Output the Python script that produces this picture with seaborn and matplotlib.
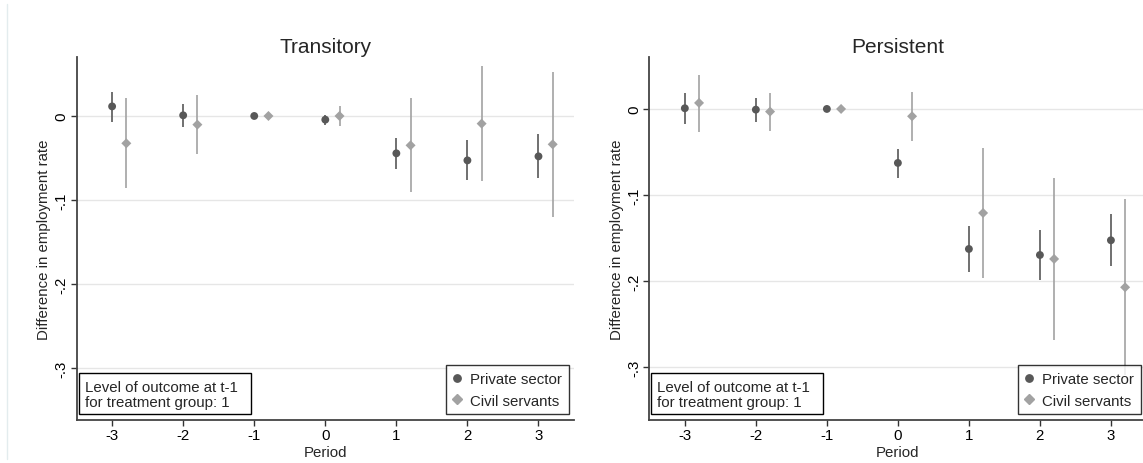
import matplotlib
matplotlib.use("Agg")
import matplotlib.pyplot as plt
from matplotlib.lines import Line2D
from matplotlib.patches import Rectangle
import pandas as pd
import seaborn as sns

# Event-study estimates with 95% confidence bounds
periods = [-3, -2, -1, 0, 1, 2, 3]
groups = ["Private sector", "Civil servants"]

trans_private = [0.0114, 0.0008, 0.0, -0.0044, -0.0444, -0.0528, -0.0480]
trans_private_lo = [-0.0068, -0.0127, 0.0, -0.0107, -0.0635, -0.0762, -0.0742]
trans_private_hi = [0.0289, 0.0146, 0.0, 0.0015, -0.0258, -0.0286, -0.0218]
trans_civil = [-0.0325, -0.0103, 0.0, 0.0, -0.0349, -0.0091, -0.0337]
trans_civil_lo = [-0.0861, -0.0452, 0.0, -0.0115, -0.0909, -0.0778, -0.1202]
trans_civil_hi = [0.0210, 0.0246, 0.0, 0.0119, 0.0210, 0.0595, 0.0524]

pers_private = [0.0008, -0.0008, 0.0, -0.0627, -0.1626, -0.1696, -0.1525]
pers_private_lo = [-0.0178, -0.0151, 0.0, -0.0798, -0.1897, -0.1986, -0.1823]
pers_private_hi = [0.0186, 0.0132, 0.0, -0.0461, -0.1359, -0.1405, -0.1223]
pers_civil = [0.0070, -0.0031, 0.0, -0.0085, -0.1208, -0.1742, -0.2071]
pers_civil_lo = [-0.0263, -0.0256, 0.0, -0.0372, -0.1959, -0.2679, -0.3093]
pers_civil_hi = [0.0399, 0.0186, 0.0, 0.0201, -0.0457, -0.0801, -0.1049]

y_ticks = [0, -0.1, -0.2, -0.3]
y_tick_labels = ["0", "-.1", "-.2", "-.3"]
note_text = "Level of outcome at t-1\nfor treatment group: 1"

sns.set_style("ticks")
plt.rcParams["font.family"] = ["Liberation Sans", "DejaVu Sans"]

DARK = "#585858"
LIGHT = "#a2a2a2"
FS = 10.8
palette = {groups[0]: DARK, groups[1]: LIGHT}
markers = {groups[0]: "o", groups[1]: "D"}
sizes = {groups[0]: 32, groups[1]: 26}
offsets = {groups[0]: 0.0, groups[1]: 0.2}


def make_frame(priv, priv_lo, priv_hi, civ, civ_lo, civ_hi):
    rows = []
    for g, est, lo, hi in [(groups[0], priv, priv_lo, priv_hi),
                           (groups[1], civ, civ_lo, civ_hi)]:
        for p, e, l, h in zip(periods, est, lo, hi):
            rows.append({"period": p, "x": p + offsets[g], "group": g,
                         "est": e, "lo": l, "hi": h})
    return pd.DataFrame(rows)


fig = plt.figure(figsize=(11.43, 4.64), dpi=100)

# faint frame edge on the left side
fig.add_artist(Line2D([6.5 / 1143, 6.5 / 1143], [1 - 5 / 464, 1 - 460 / 464],
                      color="#e3ecee", lw=1.0, transform=fig.transFigure))

panels = [
    ("Transitory", [0.0670, 0.0927, 0.4352, 0.7817], (-0.3615, 0.0698),
     make_frame(trans_private, trans_private_lo, trans_private_hi,
                trans_civil, trans_civil_lo, trans_civil_hi),
     0.0052, 0.0163, 0.345, 0.990),
    ("Persistent", [0.5681, 0.0927, 0.4349, 0.7817], (-0.3612, 0.0600),
     make_frame(pers_private, pers_private_lo, pers_private_hi,
                pers_civil, pers_civil_lo, pers_civil_hi),
     0.0034, 0.0147, 0.3467, 0.989),
]

for title, rect, ylim, df, box_x, text_x, box_w, leg_x in panels:
    ax = fig.add_axes(rect)
    ax.set_xlim(-3.5, 3.5)
    ax.set_ylim(*ylim)

    for yv in y_ticks:
        ax.axhline(yv, color="#e6e6e6", lw=1.0, zorder=0)

    for g in groups:
        sub = df[df["group"] == g]
        ax.vlines(sub["x"], sub["lo"], sub["hi"], colors=palette[g],
                  lw=1.2, zorder=2)

    sns.scatterplot(data=df, x="x", y="est", hue="group", style="group",
                    size="group", palette=palette, markers=markers,
                    sizes=sizes, linewidth=0, legend=False, ax=ax, zorder=3)

    ax.set_xticks(periods)
    ax.set_xticklabels([str(p) for p in periods])
    ax.set_yticks(y_ticks)
    ax.set_yticklabels(y_tick_labels, rotation=90, va="center")
    ax.tick_params(axis="both", length=4, width=1.0, color="#333333",
                   labelsize=FS, labelcolor="black")
    ax.tick_params(axis="x", pad=1.5)
    ax.tick_params(axis="y", pad=2)
    ax.set_xlabel("Period", fontsize=FS, labelpad=2.5)
    ax.set_ylabel("Difference in employment rate", fontsize=FS, labelpad=2)
    ax.set_title(title, fontsize=15, pad=4)

    for side in ["top", "right"]:
        ax.spines[side].set_visible(False)
    for side in ["left", "bottom"]:
        ax.spines[side].set_color("#444444")
        ax.spines[side].set_linewidth(1.3)

    handles = [Line2D([], [], ls="", marker="o", color=DARK, markersize=5.3),
               Line2D([], [], ls="", marker="D", color=LIGHT, markersize=4.8)]
    leg = ax.legend(handles, groups, loc="lower right",
                    bbox_to_anchor=(leg_x, 0.0157), borderaxespad=0,
                    fontsize=FS, frameon=True, fancybox=False,
                    handlelength=0.6, handletextpad=0.6, labelspacing=0.5,
                    borderpad=0.45)
    leg.get_frame().set_edgecolor("black")
    leg.get_frame().set_linewidth(1.0)

    ax.add_patch(Rectangle((box_x, 0.0157), box_w, 0.113,
                           transform=ax.transAxes, fill=True, fc="white",
                           ec="black", lw=1.0, zorder=5))
    ax.text(text_x, 0.0709, note_text, transform=ax.transAxes,
            ha="left", va="center", fontsize=FS, linespacing=1.05,
            zorder=6)

fig.savefig("out.png", dpi=100)
